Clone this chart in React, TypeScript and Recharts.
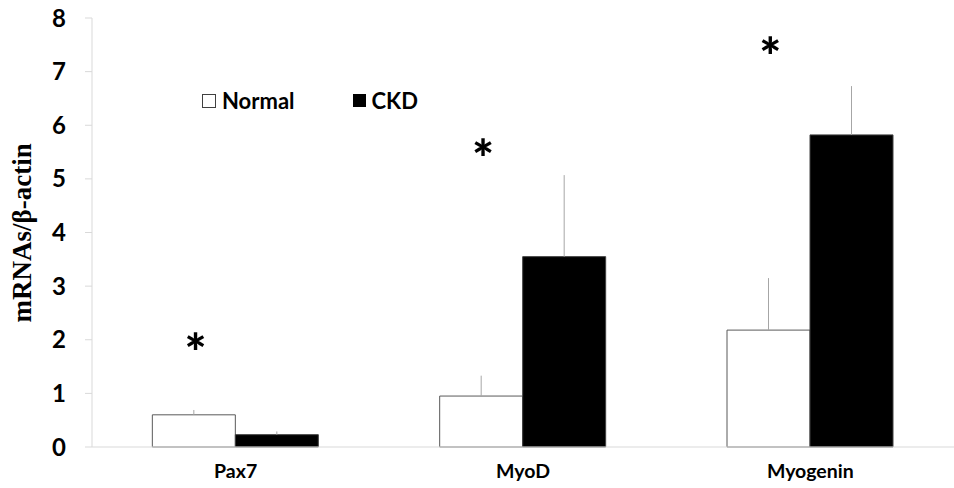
import React from 'react';
import {
  BarChart,
  Bar,
  XAxis,
  YAxis,
  ErrorBar,
  ReferenceDot,
} from 'recharts';

const genes = ['Pax7', 'MyoD', 'Myogenin'];
const normalMean = [0.6, 0.95, 2.18];
const normalErr = [0.09, 0.38, 0.97];
const ckdMean = [0.23, 3.55, 5.82];
const ckdErr = [0.06, 1.52, 0.91];
const starLevel = [1.98, 5.6, 7.5];
const yTicks = [0, 1, 2, 3, 4, 5, 6, 7, 8];

const rows = genes.map((g, i) => ({
  gene: g,
  Normal: normalMean[i],
  normalErr: [0, normalErr[i]],
  CKD: ckdMean[i],
  ckdErr: [0, ckdErr[i]],
}));

const sans = 'Lato, "Open Sans", sans-serif';

// legend drawn as plain html on top of the chart, recharts would reserve space for it
const LegendBox = () => (
  <div
    style={{
      position: 'absolute',
      left: 202,
      top: 87,
      display: 'flex',
      alignItems: 'center',
      fontFamily: sans,
      fontWeight: 700,
      fontSize: 22,
    }}
  >
    <span style={{ width: 12, height: 12, border: '1px solid #404040', background: '#fff', marginRight: 6 }} />
    <span style={{ marginRight: 58 }}>Normal</span>
    <span style={{ width: 13, height: 13, background: '#000', marginRight: 6 }} />
    <span>CKD</span>
  </div>
);

export default function App() {
  return (
    <div style={{ position: 'absolute', left: 0, top: 0, width: 954, height: 488, background: '#fff' }}>
      <BarChart
        width={954}
        height={488}
        data={rows}
        margin={{ top: 18, right: 0, bottom: 11, left: 0 }}
        barCategoryGap="21%"
        barGap={0}
      >
        <XAxis
          dataKey="gene"
          height={30}
          axisLine={{ stroke: '#d9d9d9' }}
          tickLine={false}
          tickMargin={11}
          tick={{ fontFamily: sans, fontWeight: 700, fontSize: 19.5, fill: '#000' }}
        />
        <YAxis
          width={92}
          domain={[0, 8]}
          ticks={yTicks}
          interval={0}
          axisLine={{ stroke: '#d9d9d9' }}
          tickLine={{ stroke: '#d9d9d9' }}
          tickSize={7}
          tickMargin={19}
          tick={{ fontFamily: sans, fontWeight: 700, fontSize: 24, fill: '#000' }}
          label={{
            value: 'mRNAs/β-actin',
            angle: -90,
            position: 'insideLeft',
            dx: 16,
            dy: 90,
            style: { fontFamily: '"Liberation Serif", serif', fontWeight: 700, fontSize: 27, fill: '#000' },
          }}
        />
        <Bar dataKey="Normal" fill="#fff" stroke="#595959" strokeWidth={1} isAnimationActive={false}>
          <ErrorBar dataKey="normalErr" direction="y" width={0} stroke="#a6a6a6" strokeWidth={1} />
        </Bar>
        <Bar dataKey="CKD" fill="#000" stroke="#404040" strokeWidth={1} isAnimationActive={false}>
          <ErrorBar dataKey="ckdErr" direction="y" width={0} stroke="#a6a6a6" strokeWidth={1} />
        </Bar>
        {genes.map((g, i) => (
          <ReferenceDot
            key={g}
            x={g}
            y={starLevel[i]}
            r={0}
            fill="none"
            stroke="none"
            label={{
              value: '*',
              position: 'center',
              dx: -40,
              dy: 12,
              style: { fontFamily: sans, fontWeight: 900, fontSize: 52, fill: '#000' },
            }}
          />
        ))}
      </BarChart>
      <LegendBox />
    </div>
  );
}
